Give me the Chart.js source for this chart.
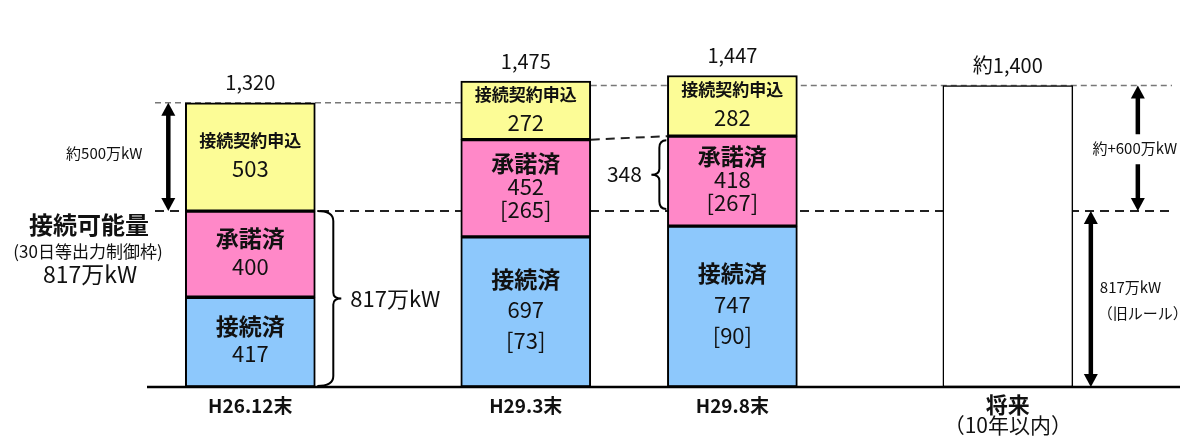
<!DOCTYPE html>
<html><head><meta charset="utf-8">
<script src="https://cdn.jsdelivr.net/npm/chart.js@4/dist/chart.umd.min.js"></script>
<style>html,body{margin:0;padding:0;background:#fff}#wrap{width:1189px;height:439px;position:relative}</style>
</head><body><div id="wrap"><canvas id="c"></canvas></div>
<script>
// ---- data ----
const categories = ['H26.12末', 'H29.3末', 'H29.8末', ['将来', '（10年以内）']];
const connected = [417, 697, 747, null];        // 接続済
const connectedSub = [null, 73, 90, null];
const approved = [400, 452, 418, null];          // 承諾済
const approvedSub = [null, 265, 267, null];
const applied = [503, 272, 282, null];           // 接続契約申込
const future = [null, null, null, 1400];         // 将来
const totalLabels = ['1,320', '1,475', '1,447', '約1,400'];
const capacity = 817;                            // 接続可能量（30日等出力制御枠）
const gapValue = 348;                            // H29.8末 承諾済のうち枠超過分

// ---- layout (not data) ----
const SLOTS = 15, slotOf = [1, 5, 8, 12];
function spread(arr) { const a = Array(SLOTS).fill(null); slotOf.forEach((s, i) => a[s] = arr[i]); return a; }
const labels = Array(SLOTS).fill('');
slotOf.forEach((s, i) => labels[s] = categories[i]);

const JP = '"Noto Sans CJK JP", "Noto Sans", sans-serif';
const YELLOW = '#FCFC96', PINK = '#FF88C8', BLUE = '#8DC8FC';

function arrowHead(ctx, x, y, dir) { // dir -1 up, +1 down
  ctx.beginPath();
  ctx.moveTo(x, y);
  ctx.lineTo(x - 7, y - dir * 13);
  ctx.lineTo(x + 7, y - dir * 13);
  ctx.closePath(); ctx.fill();
}
function vArrow(ctx, x, y1, y2, gapFrom, gapTo) {
  ctx.save(); ctx.strokeStyle = '#000'; ctx.fillStyle = '#000'; ctx.lineWidth = 4.5;
  ctx.beginPath();
  if (gapFrom != null) {
    ctx.moveTo(x, y1 + 10); ctx.lineTo(x, gapFrom);
    ctx.moveTo(x, gapTo); ctx.lineTo(x, y2 - 10);
  } else { ctx.moveTo(x, y1 + 10); ctx.lineTo(x, y2 - 10); }
  ctx.stroke();
  arrowHead(ctx, x, y1, -1); arrowHead(ctx, x, y2, 1);
  ctx.restore();
}
function brace(ctx, x, yTop, yBot, w, dir) { // dir 1: tip to the right
  const ym = (yTop + yBot) / 2, r = Math.min(10, w / 2);
  const xv = x + dir * (w - 8), xt = x + dir * w;
  ctx.save(); ctx.strokeStyle = '#000'; ctx.lineWidth = 2; ctx.beginPath();
  ctx.moveTo(x, yTop);
  ctx.quadraticCurveTo(xv, yTop, xv, yTop + r);
  ctx.lineTo(xv, ym - 6);
  ctx.quadraticCurveTo(xv, ym, xt, ym);
  ctx.quadraticCurveTo(xv, ym, xv, ym + 6);
  ctx.lineTo(xv, yBot - r);
  ctx.quadraticCurveTo(xv, yBot, x, yBot);
  ctx.stroke(); ctx.restore();
}
function text(ctx, s, x, y, size, bold, color, align) {
  ctx.save(); ctx.font = (bold ? 'bold ' : '') + size + 'px ' + JP;
  ctx.fillStyle = color || '#111'; ctx.textAlign = align || 'center'; ctx.textBaseline = 'middle';
  ctx.fillText(s, x, y); ctx.restore();
}
function dashed(ctx, x1, y1, x2, y2, width, color, dash) {
  ctx.save(); ctx.strokeStyle = color; ctx.lineWidth = width; ctx.setLineDash(dash);
  ctx.beginPath(); ctx.moveTo(x1, y1); ctx.lineTo(x2, y2); ctx.stroke(); ctx.restore();
}

const annot = {
  id: 'annot',
  beforeDatasetsDraw(chart) {
    const { ctx, chartArea: a, scales: { x, y } } = chart;
    const yCap = y.getPixelForValue(capacity);
    const yTop1 = y.getPixelForValue(connected[0] + approved[0] + applied[0]);
    const yFut = y.getPixelForValue(future[3]);
    const half = 65;
    dashed(ctx, a.left + 8, yCap, a.right - 8, yCap, 2, '#222', [9, 6]);
    dashed(ctx, a.left + 8, yTop1, x.getPixelForValue(slotOf[1]) - half, yTop1, 1.5, '#777', [6, 4]);
    dashed(ctx, x.getPixelForValue(slotOf[1]) + half, yFut, a.right - 8, yFut, 1.5, '#777', [6, 4]);
    const p2 = y.getPixelForValue(connected[1] + approved[1]);
    const p3 = y.getPixelForValue(connected[2] + approved[2]);
    dashed(ctx, x.getPixelForValue(slotOf[1]) + half, p2, x.getPixelForValue(slotOf[2]) - half, p3, 2, '#222', [9, 6]);
  },
  afterDatasetsDraw(chart) {
    const { ctx, chartArea: a, scales: { x, y } } = chart;
    const base = y.getPixelForValue(0);
    ctx.save(); ctx.strokeStyle = '#000'; ctx.lineWidth = 2.5;
    ctx.beginPath(); ctx.moveTo(a.left, base); ctx.lineTo(a.right, base); ctx.stroke(); ctx.restore();

    const segs = [
      { d: connected, sub: connectedSub, title: '接続済', tSize: 23 },
      { d: approved, sub: approvedSub, title: '承諾済', tSize: 23 },
      { d: applied, sub: null, title: '接続契約申込', tSize: 17 }
    ];
    for (let i = 0; i < 3; i++) {
      const cx = x.getPixelForValue(slotOf[i]);
      let acc = 0;
      segs.forEach((sg, k) => {
        const v = sg.d[i];
        const yb = y.getPixelForValue(acc), yt = y.getPixelForValue(acc + v);
        acc += v;
        const c = (yb + yt) / 2;
        const lines = [[sg.title, sg.tSize, true], [String(v), 22, false]];
        if (sg.sub && sg.sub[i] != null) lines.push(['[' + sg.sub[i] + ']', 22, false]);
        const gap = lines.length === 3 ? (k === 0 ? 31 : 23) : 28;
        const start = c - gap * (lines.length - 1) / 2 - 2;
        lines.forEach((ln, j) => text(ctx, ln[0], cx, start + j * gap, ln[1], ln[2]));
      });
    }
    for (let i = 0; i < 4; i++) {
      const tot = (connected[i] || 0) + (approved[i] || 0) + (applied[i] || 0) + (future[i] || 0);
      text(ctx, totalLabels[i], x.getPixelForValue(slotOf[i]), y.getPixelForValue(tot) - 20, 20, false);
    }
    for (let i = 0; i < 4; i++) {
      const cx = x.getPixelForValue(slotOf[i]);
      const c = categories[i];
      if (Array.isArray(c)) { text(ctx, c[0], cx, base + 18, 22, true); text(ctx, c[1], cx, base + 38, 21, false); }
      else text(ctx, c, cx, base + 19, 19, true);
    }
    const yCap = y.getPixelForValue(capacity);
    const x1 = x.getPixelForValue(slotOf[0]);
    const yTop1 = y.getPixelForValue(connected[0] + approved[0] + applied[0]);
    vArrow(ctx, x1 - 82, yTop1, yCap);
    text(ctx, '約500万kW', x1 - 146, (yTop1 + yCap) / 2 - 4, 15, false);
    text(ctx, '接続可能量', 89, yCap + 14, 24, true);
    text(ctx, '(30日等出力制御枠)', 88, yCap + 40, 17, false);
    text(ctx, '817万kW', 90, yCap + 63, 23, false);
    brace(ctx, x1 + 67, yCap, base - 1, 24, 1);
    text(ctx, capacity + '万kW', x1 + 145, (yCap + base) / 2, 22, false);
    const x3 = x.getPixelForValue(slotOf[2]);
    const yA3 = y.getPixelForValue(connected[2] + approved[2]);
    brace(ctx, x3 - 66, yA3 + 4, yCap - 2, 15, -1);
    text(ctx, String(gapValue), x3 - 108, (yA3 + yCap) / 2, 21, false);
    const x4 = x.getPixelForValue(slotOf[3]);
    const yFut = y.getPixelForValue(future[3]);
    const mid = (yFut + yCap) / 2;
    vArrow(ctx, x4 + 130, yFut, yCap, mid - 14, mid + 16);
    text(ctx, '約+600万kW', x4 + 127, mid, 15, false);
    vArrow(ctx, x4 + 83, yCap, base);
    text(ctx, '817万kW', x4 + 92, (yCap + base) / 2 - 12, 15, false, '#111', 'left');
    text(ctx, '（旧ルール）', x4 + 90, (yCap + base) / 2 + 14, 15, false, '#111', 'left');
  }
};

const common = { borderColor: '#000', borderWidth: 2, borderSkipped: false, barThickness: 130, stack: 's' };
new Chart(document.getElementById('c'), {
  type: 'bar',
  data: {
    labels,
    datasets: [
      { label: '接続済', data: spread(connected), backgroundColor: BLUE, ...common },
      { label: '承諾済', data: spread(approved), backgroundColor: PINK, ...common },
      { label: '接続契約申込', data: spread(applied), backgroundColor: YELLOW, ...common },
      { label: '将来', data: spread(future), backgroundColor: '#fff', ...common, borderWidth: 1.5 }
    ]
  },
  options: {
    responsive: true, maintainAspectRatio: false, animation: false,
    layout: { padding: { left: 147, right: 9, top: 21, bottom: 52 } },
    plugins: { legend: { display: false }, tooltip: { enabled: false } },
    scales: {
      x: { display: false, stacked: true },
      y: { display: false, stacked: true, min: 0, max: 1700 }
    }
  },
  plugins: [annot]
});
</script></body></html>
